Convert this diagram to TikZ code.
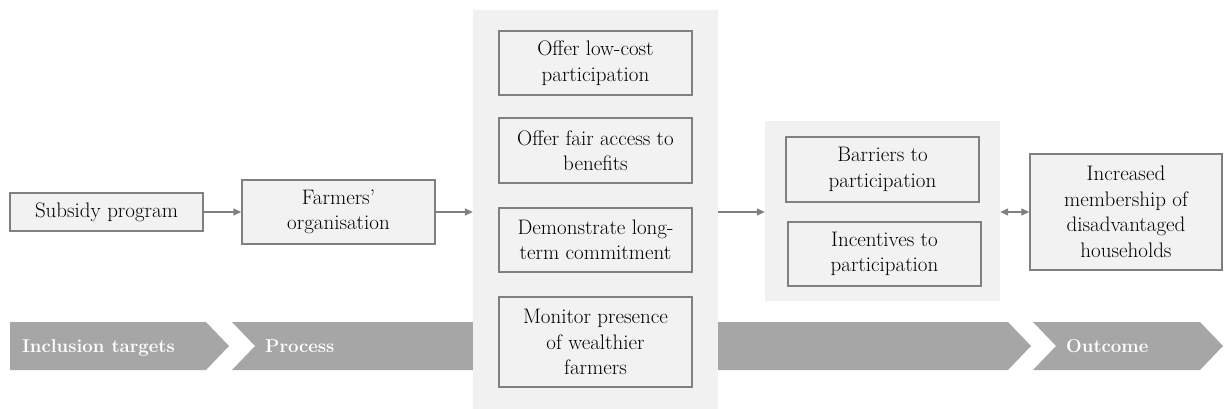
\documentclass[tikz,border=0pt]{standalone}
\usetikzlibrary{arrows.meta}
\definecolor{boxfill}{HTML}{F2F2F2}
\definecolor{panelfill}{HTML}{F1F1F1}
\definecolor{boxline}{HTML}{808080}
\definecolor{chev}{HTML}{A6A6A6}
\tikzset{
  box/.style={draw=boxline, line width=1.4pt, fill=boxfill, inner sep=0pt,
    align=center, font=\rmfamily\fontsize{21}{25.5}\selectfont},
  panel/.style={fill=panelfill, draw=none, inner sep=0pt},
  conn/.style={draw=boxline, line width=1.4pt, -{Triangle[length=8pt,width=7pt]}},
  dconn/.style={draw=boxline, line width=1.4pt, {Triangle[length=8pt,width=7pt]}-{Triangle[length=8pt,width=7pt]}},
  chevshape/.style={fill=chev, draw=none},
  chevtext/.style={text=white, font=\rmfamily\bfseries\fontsize{18.6}{25}\selectfont, inner sep=0pt, anchor=base west}
}
\begin{document}
\begin{tikzpicture}[x=1pt,y=-1pt]
\useasboundingbox (0,0) rectangle (1224,409);
% chevrons
\fill[chevshape] (10,322) -- (206,322) -- (229,346) -- (206,370) -- (10,370) -- cycle;
\fill[chevshape] (232,322) -- (1008,322) -- (1031,346) -- (1008,370) -- (232,370) -- (255,346) -- cycle;
\fill[chevshape] (1033,322) -- (1200,322) -- (1223,346) -- (1200,370) -- (1033,370) -- (1056,346) -- cycle;
\node[chevtext] (t1) at (22,352) {Inclusion targets};
\node[chevtext] (t2) at (265,352) {Process};
\node[chevtext] (t3) at (1066,352) {Outcome};
% panels
\node[panel, minimum width=245pt, minimum height=399pt] (p1) at (595.5,209.5) {};
\node[panel, minimum width=235pt, minimum height=180pt] (p2) at (882.5,211) {};
% boxes
\node[box, minimum width=193pt, minimum height=38pt] (sub) at (106.5,212) {Subsidy program};
\node[box, minimum width=193pt, minimum height=64pt] (farm) at (338.5,212) {Farmers'\\organisation};
\node[box, minimum width=193pt, minimum height=64pt] (o1) at (595.5,63) {Offer low-cost\\participation};
\node[box, minimum width=193pt, minimum height=65pt] (o2) at (595.5,150.5) {Offer fair access to\\benefits};
\node[box, minimum width=193pt, minimum height=64pt] (o3) at (595.5,240) {Demonstrate long-\\term commitment};
\node[box, minimum width=193pt, minimum height=90pt] (o4) at (595.5,342) {Monitor presence\\of wealthier\\farmers};
\node[box, minimum width=193pt, minimum height=65pt] (bar) at (882.5,169.5) {Barriers to\\participation};
\node[box, minimum width=193pt, minimum height=64pt] (inc) at (884.5,254) {Incentives to\\participation};
\node[box, minimum width=192pt, minimum height=116pt] (out) at (1126,212) {Increased\\membership of\\disadvantaged\\households};
% connectors
\draw[conn] (sub.east) -- (farm.west);
\draw[conn] (farm.east) -- (p1.west |- farm.east);
\draw[conn] (p1.east |- farm.east) -- (p2.west |- farm.east);
\draw[dconn] (p2.east |- out.west) -- (out.west);
\end{tikzpicture}
\end{document}
